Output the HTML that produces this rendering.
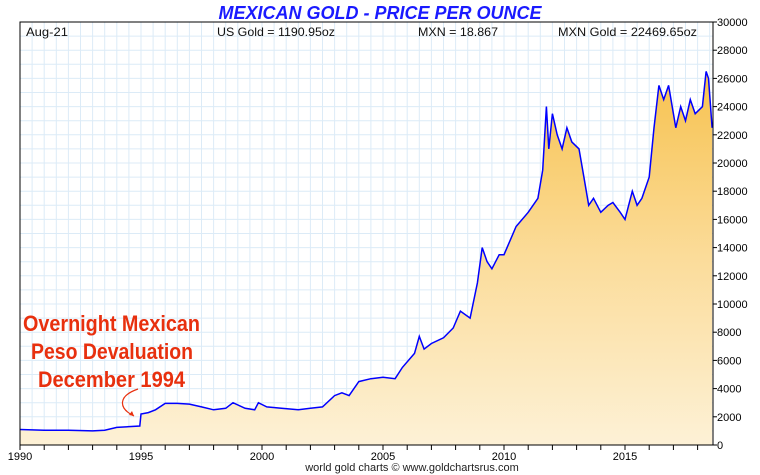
<!DOCTYPE html>
<html><head><meta charset="utf-8"><style>
html,body{margin:0;padding:0;background:#fff;}
svg{display:block;font-family:"Liberation Sans",sans-serif;}
</style></head><body>
<svg id="chart" width="760" height="475">
<defs><linearGradient id="fillg" x1="0" y1="0" x2="0" y2="1">
<stop offset="0" stop-color="#f7c24f"/><stop offset="0.5" stop-color="#fbdc9a"/><stop offset="1" stop-color="#fdf1d6"/></linearGradient></defs>
<g id="grid"></g>
<path id="area" fill="url(#fillg)"/>
<path id="line" fill="none" stroke="#0000ff" stroke-width="1.5"/>
<rect x="20" y="22" width="693" height="423" fill="none" stroke="#000" stroke-width="1"/>
<g id="axes"></g>
<text x="380" y="19" text-anchor="middle" font-size="18" font-weight="bold" font-style="italic" fill="#1a1aff">MEXICAN GOLD - PRICE PER OUNCE</text>
<text x="26" y="36" font-size="12" fill="#111" textLength="42" lengthAdjust="spacingAndGlyphs">Aug-21</text>
<text x="217" y="36" font-size="12" fill="#111" textLength="118" lengthAdjust="spacingAndGlyphs">US Gold = 1190.95oz</text>
<text x="418" y="36" font-size="12" fill="#111" textLength="80" lengthAdjust="spacingAndGlyphs">MXN = 18.867</text>
<text x="558" y="36" font-size="12" fill="#111" textLength="139" lengthAdjust="spacingAndGlyphs">MXN Gold = 22469.65oz</text>
<g fill="#e8300e" font-weight="bold" font-size="22">
<text x="23" y="331" textLength="177" lengthAdjust="spacingAndGlyphs">Overnight Mexican</text>
<text x="31" y="359" textLength="162" lengthAdjust="spacingAndGlyphs">Peso Devaluation</text>
<text x="38" y="387" textLength="147" lengthAdjust="spacingAndGlyphs">December 1994</text>
</g>
<path d="M138,389 C118,396 118,408 134,416" fill="none" stroke="#e8300e" stroke-width="1.2"/>
<path d="M134,416 l-5,-1 l3,-4 z" fill="#e8300e"/>
<text x="412" y="471" text-anchor="middle" font-size="11" fill="#222">world gold charts © www.goldchartsrus.com</text>
</svg>
<script>
const years=[1990,1991,1992,1993,1993.5,1994,1994.95,1995.0,1995.3,1995.6,1996,1996.5,1997,1997.5,1998,1998.5,1998.8,1999.3,1999.7,1999.85,2000.2,2000.8,2001.5,2002,2002.5,2003,2003.3,2003.6,2004,2004.5,2005,2005.5,2005.8,2006.3,2006.5,2006.7,2007,2007.5,2007.9,2008.2,2008.6,2008.9,2009.1,2009.3,2009.5,2009.8,2010,2010.5,2011,2011.4,2011.6,2011.75,2011.85,2012,2012.2,2012.4,2012.6,2012.8,2013.1,2013.3,2013.5,2013.7,2014,2014.3,2014.5,2014.8,2015,2015.3,2015.5,2015.7,2016,2016.2,2016.4,2016.6,2016.8,2017.1,2017.3,2017.5,2017.7,2017.9,2018.2,2018.35,2018.45,2018.6];
const prices=[1100,1050,1050,1000,1050,1250,1350,2200,2300,2500,2950,2950,2900,2700,2500,2600,3000,2600,2500,3000,2700,2600,2500,2600,2700,3500,3700,3500,4500,4700,4800,4700,5500,6500,7700,6800,7200,7600,8300,9500,9000,11500,14000,13000,12500,13500,13500,15500,16500,17500,19500,24000,21000,23500,22000,21000,22500,21500,21000,19000,17000,17500,16500,17000,17200,16500,16000,18000,17000,17500,19000,22500,25500,24500,25500,22500,24000,23000,24500,23500,24000,26500,26000,22500];
const yTicks=[0,2000,4000,6000,8000,10000,12000,14000,16000,18000,20000,22000,24000,26000,28000,30000];
const xTicks=[1990,1995,2000,2005,2010,2015];
const X=y=>20+(y-1990)*24.2, Y=v=>445-v*(423/30000);
const ns='http://www.w3.org/2000/svg';
const grid=document.getElementById('grid'),axes=document.getElementById('axes');
for(let v=0;v<=30000;v+=1000){const l=document.createElementNS(ns,'line');l.setAttribute('x1',20);l.setAttribute('x2',713);l.setAttribute('y1',Y(v));l.setAttribute('y2',Y(v));l.setAttribute('stroke','#dcebf7');

grid.appendChild(l);}
for(let y=1990;y<=2018.5;y+=0.5){const l=document.createElementNS(ns,'line');l.setAttribute('x1',X(y));l.setAttribute('x2',X(y));l.setAttribute('y1',22);l.setAttribute('y2',445);l.setAttribute('stroke','#dcebf7');

grid.appendChild(l);}
let d='';years.forEach((y,i)=>{d+=(i?'L':'M')+X(y).toFixed(1)+','+Y(prices[i]).toFixed(1);});
document.getElementById('line').setAttribute('d',d);
document.getElementById('area').setAttribute('d',d+'L'+X(years[years.length-1]).toFixed(1)+',445L'+X(years[0])+',445Z');
yTicks.forEach(v=>{const t=document.createElementNS(ns,'text');t.setAttribute('x',717);t.setAttribute('y',Y(v)+4);t.setAttribute('font-size','11');t.textContent=v;

axes.appendChild(t);
const l=document.createElementNS(ns,'line');l.setAttribute('x1',713);l.setAttribute('x2',717);l.setAttribute('y1',Y(v));l.setAttribute('y2',Y(v));l.setAttribute('stroke','#000');

axes.appendChild(l);});
for(let y=1990;y<=2018;y++){const l=document.createElementNS(ns,'line');l.setAttribute('x1',X(y));l.setAttribute('x2',X(y));l.setAttribute('y1',445);l.setAttribute('y2',450);l.setAttribute('stroke','#000');

axes.appendChild(l);}
xTicks.forEach(y=>{const t=document.createElementNS(ns,'text');t.setAttribute('x',X(y));t.setAttribute('y',460);t.setAttribute('font-size','11');t.setAttribute('text-anchor','middle');t.textContent=y;

axes.appendChild(t);});
</script>
</body></html>
